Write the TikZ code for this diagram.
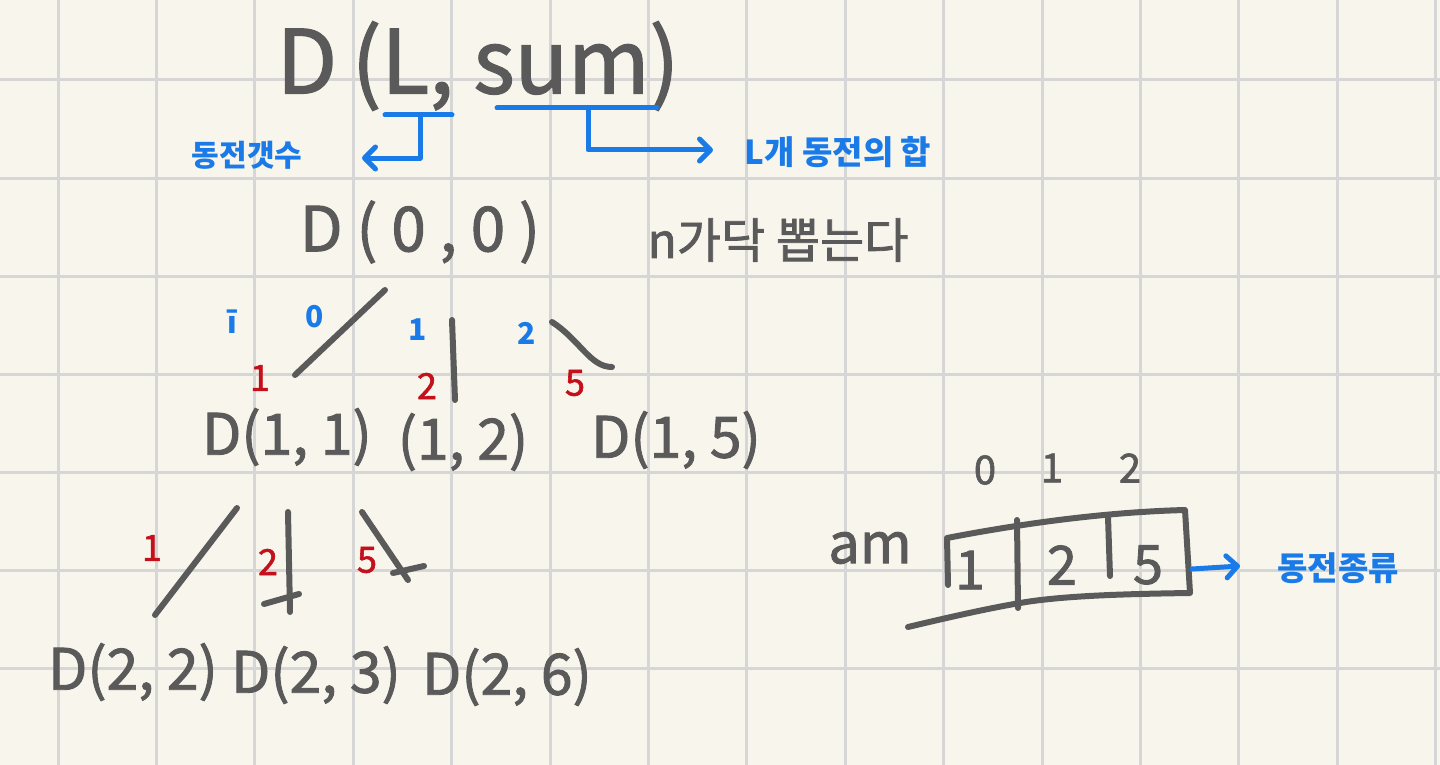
\documentclass[tikz,border=0pt]{standalone}
\usepackage{fontspec}
\setmainfont{Noto Sans CJK KR}
\newfontfamily\handfont[FakeBold=1.6]{Noto Sans CJK KR}
\usetikzlibrary{arrows.meta}
\definecolor{paper}{HTML}{F8F6EC}
\definecolor{gridgray}{HTML}{D6D6D6}
\definecolor{pengray}{HTML}{5A5A5A}
\definecolor{penblue}{HTML}{1A7BE8}
\definecolor{penred}{HTML}{C4101C}
\tikzset{
  pen/.style={pengray, line width=6pt, line cap=round, line join=round},
  bluepen/.style={penblue, line width=5pt, line cap=round, line join=round},
  bluetip/.style={-{Straight Barb[length=11pt,width=22pt,line width=5pt,round]}},
  gridline/.style={gridgray, line width=3pt},
  hand/.style={pengray, inner sep=0pt},
  bluenote/.style={penblue, inner sep=0pt, font=\fontsize{30}{34}\selectfont\bfseries},
  rednote/.style={penred, inner sep=0pt, font=\fontsize{36}{40}\handfont},
}
\begin{document}
\begin{tikzpicture}[x=1pt, y=-1pt]
    % 종이
    \useasboundingbox (0,0) rectangle (1440,765);
    \fill[paper] (0,0) rectangle (1440,765);
    \foreach \gx in {0,...,14}
        \draw[gridline] ({58+98.4*\gx},0) -- ++(0,765);
    \foreach \gy in {0,...,6}
        \draw[gridline] (0,{80+98*\gy}) -- ++(1440,0);

    % 점화식
    \node[hand, font=\fontsize{88}{92}\handfont] (dls) at (478,66) {D\,(L,\ sum)};
    \node[bluenote] (cnt) at (247,155) {동전갯수};
    \node[bluenote, font=\fontsize{33}{36}\selectfont\bfseries] (hap) at (838,152) {L개 동전의 합};
    \coordinate (lstem) at (420,115);
    \coordinate (lend) at (362,158);
    \coordinate (sstem) at (588,108);
    \coordinate (send) at (713,150);
    \draw[bluepen] (385,115) -- (452,115);
    \draw[bluepen, bluetip] (lstem) |- (lend);
    \draw[bluepen] (497,108) -- (657,108);
    \draw[bluepen, bluetip] (sstem) |- (send);

    % 뿌리
    \node[hand, font=\fontsize{62}{70}\handfont] (root) at (420,232) {D ( 0 , 0 )};
    \node[hand, font=\fontsize{48}{54}\handfont] (pick) at (778,240) {n가닥 뽑는다};

    % 첫째 줄
    \node[hand, font=\fontsize{57}{64}\handfont] (d11) at (287,437) {D(1, 1)};
    \node[hand, font=\fontsize{57}{64}\handfont] (d12) at (463,442) {(1, 2)};
    \node[hand, font=\fontsize{57}{64}\handfont] (d15) at (676,440) {D(1, 5)};
    \coordinate (r1a) at (295,375);
    \coordinate (r1b) at (385,290);
    \coordinate (r2a) at (452,320);
    \coordinate (r2b) at (455,400);
    \coordinate (r3a) at (552,322);
    \coordinate (r3b) at (612,367);
    \draw[pen] (r1a) -- (r1b);
    \draw[pen] (r2a) -- (r2b);
    \draw[pen] (r3a) .. controls (580,340) and (590,367) .. (r3b);
    \node[bluenote] (ii) at (232,322) {ī};
    \node[bluenote] (i0) at (315,317) {0};
    \node[bluenote] (i1) at (418,330) {1};
    \node[bluenote] (i2) at (527,333) {2};
    \node[rednote] (c1) at (260,378) {1};
    \node[rednote] (c2) at (427,386) {2};
    \node[rednote] (c5) at (575,383) {5};

    % 둘째 줄
    \node[hand, font=\fontsize{57}{64}\handfont] (d22) at (133,672) {D(2, 2)};
    \node[hand, font=\fontsize{57}{64}\handfont] (d23) at (316,675) {D(2, 3)};
    \node[hand, font=\fontsize{57}{64}\handfont] (d26) at (507,677) {D(2, 6)};
    \coordinate (s1a) at (155,615);
    \coordinate (s1b) at (237,508);
    \coordinate (s2a) at (288,512);
    \coordinate (s2b) at (290,612);
    \coordinate (s3a) at (362,512);
    \coordinate (s3b) at (408,580);
    \draw[pen] (s1a) -- (s1b);
    \draw[pen] (s2a) -- (s2b);
    \draw[pen] (264,604) -- (299,594);
    \draw[pen] (s3a) -- (s3b);
    \draw[pen] (393,573) -- (424,566);
    \node[rednote] (e1) at (152,548) {1};
    \node[rednote] (e2) at (268,562) {2};
    \node[rednote] (e5) at (367,560) {5};

    % 동전 배열
    \node[hand, font=\fontsize{56}{60}\handfont] (am) at (870,548) {am};
    \node[hand, font=\fontsize{40}{44}\handfont] (k0) at (985,470) {0};
    \node[hand, font=\fontsize{40}{44}\handfont] (k1) at (1052,468) {1};
    \node[hand, font=\fontsize{40}{44}\handfont] (k2) at (1130,468) {2};
    \draw[pen] (948,585) -- (947,538) .. controls (1030,522) and (1110,512) .. (1185,510)
        -- (1190,593) .. controls (1120,594) and (1060,596) .. (1020,603);
    \draw[pen] (908,627) .. controls (950,617) and (990,608) .. (1020,603);
    \draw[pen] (1017,520) -- (1018,608);
    \draw[pen] (1108,517) -- (1110,576);
    \node[hand, font=\fontsize{54}{60}\handfont] (v1) at (970,570) {1};
    \node[hand, font=\fontsize{54}{60}\handfont] (v2) at (1062,565) {2};
    \node[hand, font=\fontsize{54}{60}\handfont] (v5) at (1148,565) {5};
    \node[bluenote, font=\fontsize{33}{36}\selectfont\bfseries] (kind) at (1338,568) {동전종류};
    \coordinate (boxr) at (1192,569);
    \coordinate (kinda) at (1240,566);
    \draw[bluepen, bluetip] (boxr) -- (kinda);
\end{tikzpicture}
\end{document}
